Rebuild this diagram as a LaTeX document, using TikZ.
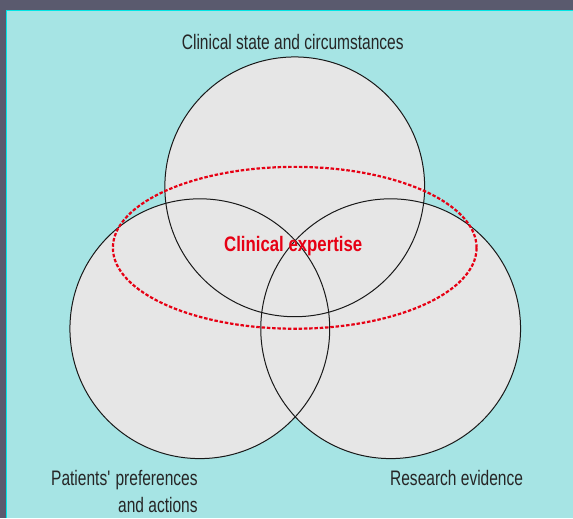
\documentclass[tikz,border=0pt]{standalone}
\usepackage{fontspec}
\setmainfont{Liberation Sans}[FakeStretch=0.74]
\newfontfamily\expfont{Liberation Sans}[FakeStretch=0.8]
\usetikzlibrary{positioning, shapes.geometric}
\definecolor{frame}{RGB}{90,90,110}
\definecolor{paper}{RGB}{166,228,228}
\definecolor{rim}{RGB}{0,230,230}
\definecolor{disc}{RGB}{230,230,230}
\definecolor{expred}{RGB}{230,0,20}
\newcommand{\vennring}[1]
{
	\draw[ring] (#1.center) circle (130pt)
}

\begin{document}
\begin{tikzpicture}[x=1pt, y=-1pt,
			venn/.style={shape=circle,
				fill=disc,
				minimum size=260pt,
				inner sep=0},
			ring/.style={draw=black!90, line width=1pt},
			caption/.style={font=\fontsize{21}{27}\selectfont, text=black!85, inner sep=0},
			redcap/.style={font=\expfont\fontsize{21}{27}\selectfont\bfseries, text=expred, inner sep=0}]

			% frame and paper
			\fill[frame] (0, 0) rectangle (573, 518);
			\fill[paper] (6, 10) rectangle (573, 518);
			\draw[rim, line width=1pt] (6.5, 518) -- (6.5, 10.5) -- (573, 10.5);

			\node[venn] at (295, 187) (state){};
			\node[venn] at (200, 329) (patient){};
			\node[venn] at (391, 329) (research){};

			\vennring{state};
			\vennring{patient};
			\vennring{research};

			\node[redcap] at (293.5, 246) (expertise){Clinical expertise};
			\draw[expred, line width=2.2pt, dash pattern=on 3.5pt off 1.8pt]
				(295, 248) ellipse (182pt and 81pt);

			\node[caption] at (293, 42) (statelabel){Clinical state and circumstances};
			\node[caption, align=right] at (124.5, 491.5) (patientlabel){Patients\textquotesingle{} preferences\\and actions};
			\node[caption] at (457, 478) (researchlabel){Research evidence};
		\end{tikzpicture}
\end{document}
